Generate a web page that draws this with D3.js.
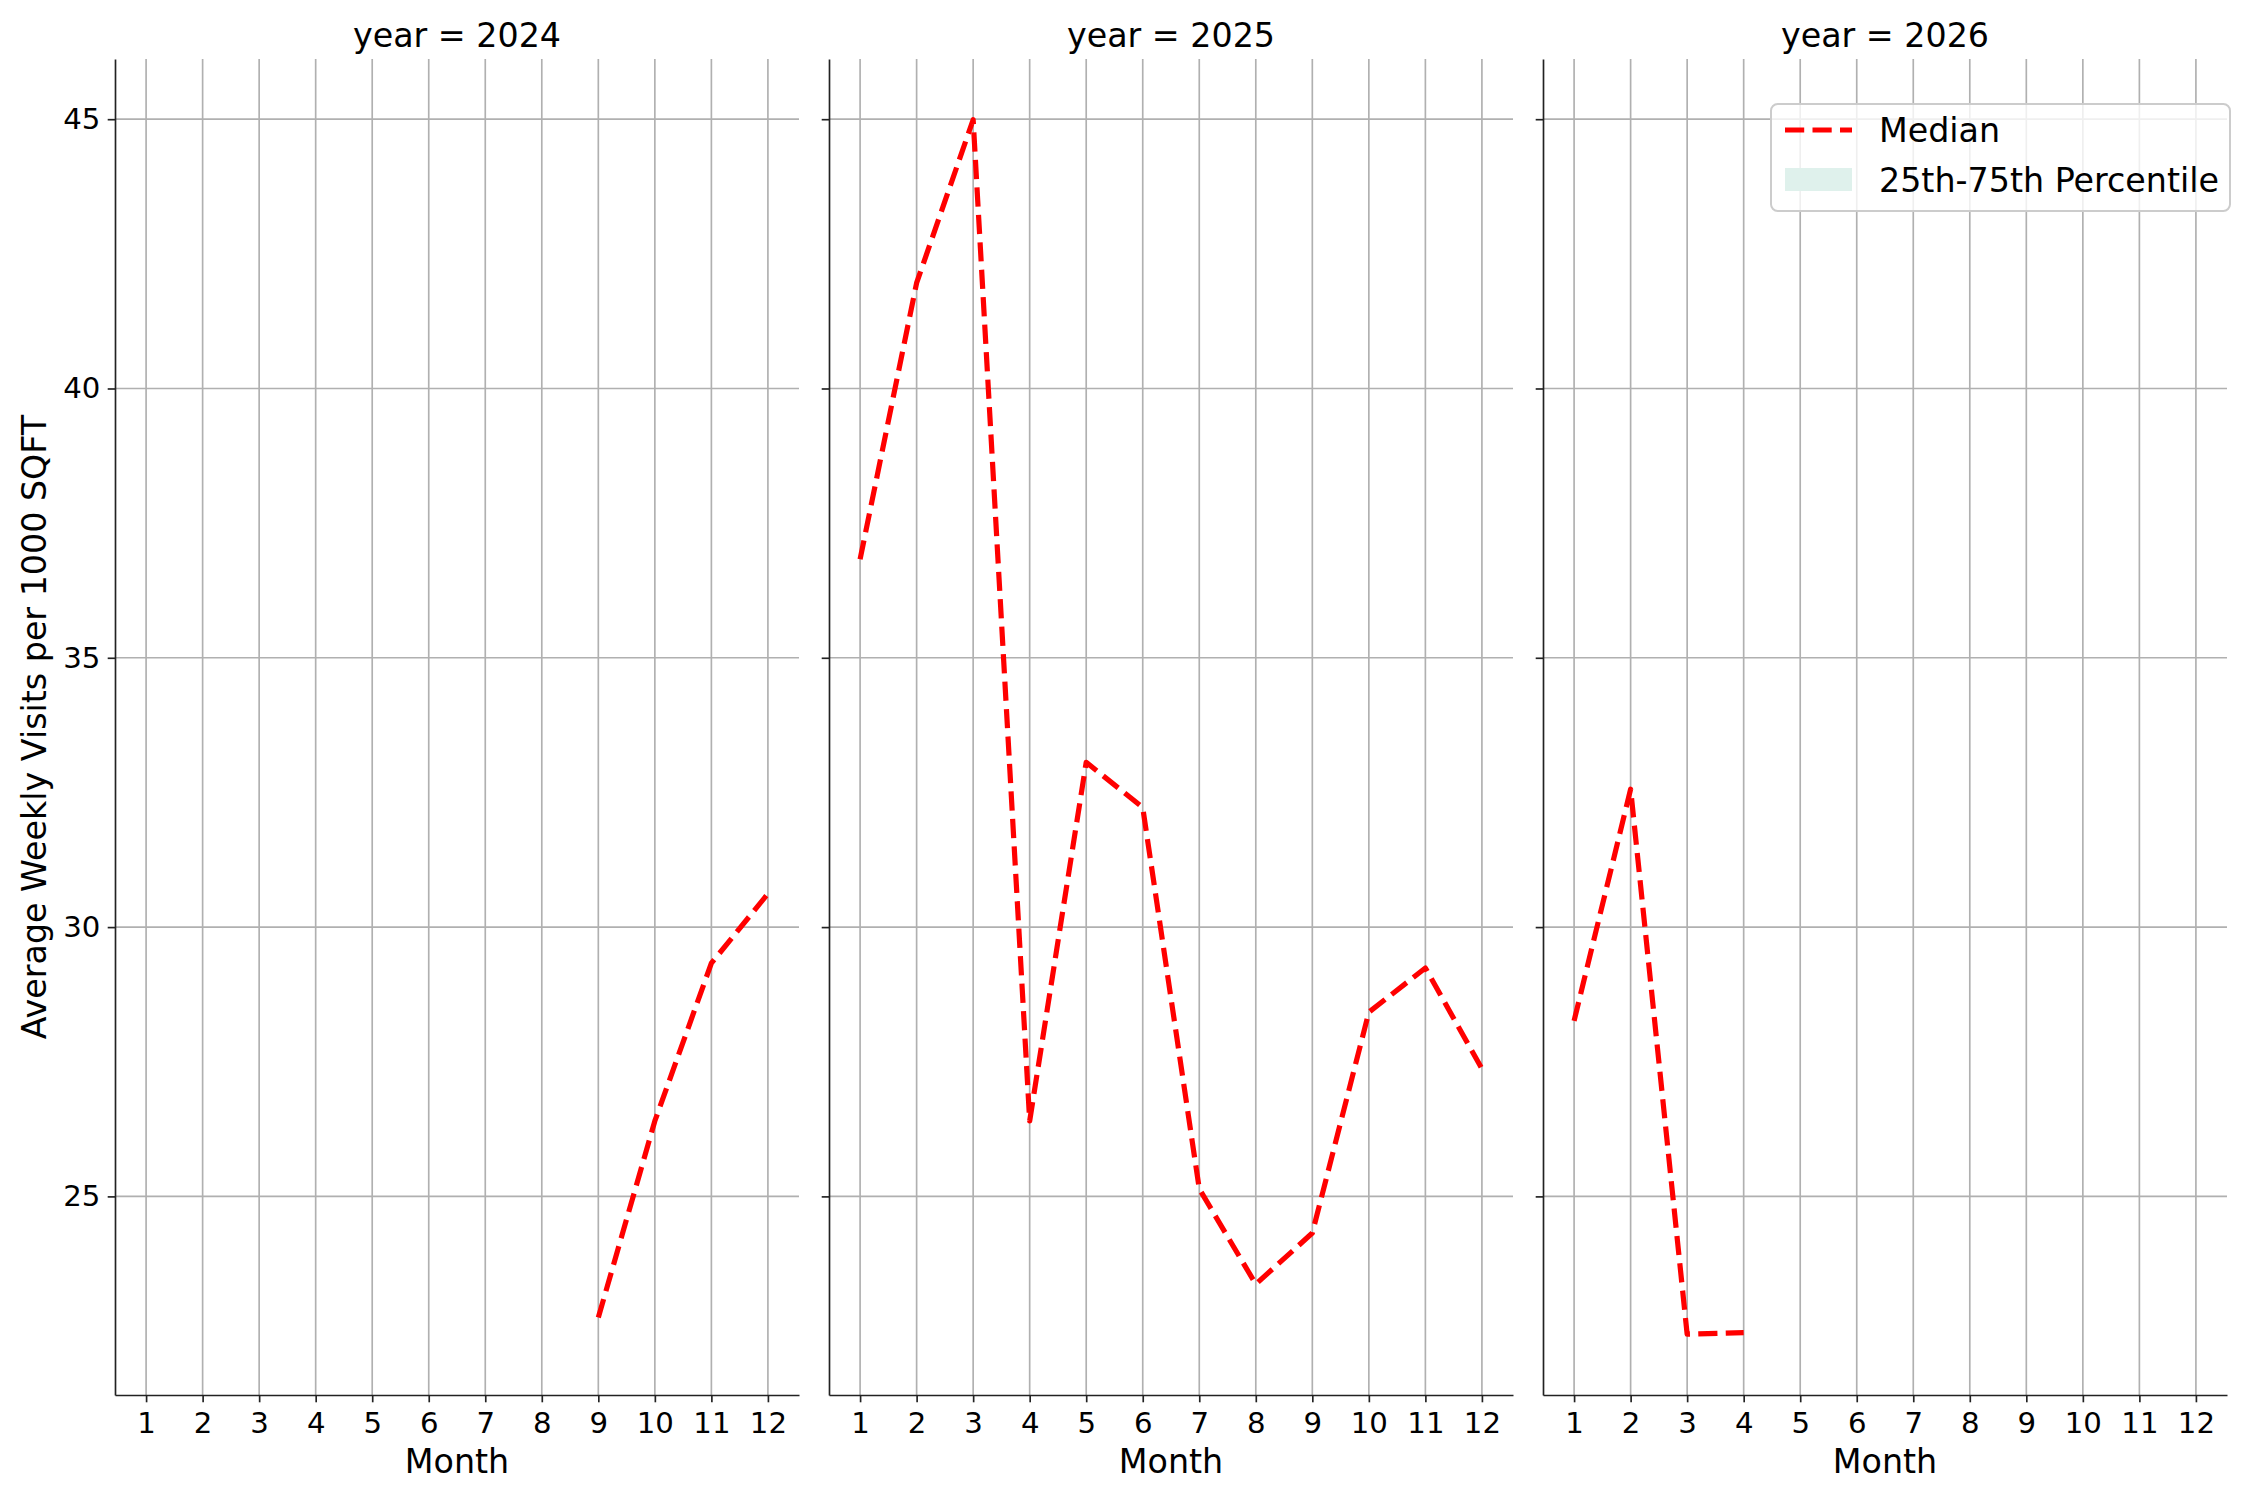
<!DOCTYPE html>
<html lang="en">

<head>
  <meta charset="UTF-8">
  <title>Average Weekly Visits by Month</title>
  <script src="https://d3js.org/d3.v7.min.js"></script>
  <style>
    body {
      margin: 0;
      background: white;
    }

    text {
      font-family: "DejaVu Sans", sans-serif;
      fill: black;
    }
  </style>
</head>

<body>
  <svg id="chart" width="2250" height="1500"></svg>

  <script>
    // values
    const years = [2024, 2025, 2026];
    const monthTicks = [1, 2, 3, 4, 5, 6, 7, 8, 9, 10, 11, 12];
    const yTicks = [25, 30, 35, 40, 45];

    const months2024 = [9, 10, 11, 12];
    const median2024 = [22.75, 26.4, 29.33, 30.62];

    const months2025 = [1, 2, 3, 4, 5, 6, 7, 8, 9, 10, 11, 12];
    const median2025 = [36.83, 41.96, 44.99, 26.4, 33.06, 32.22, 25.14, 23.37, 24.32, 28.42, 29.24, 27.37];

    const months2026 = [1, 2, 3, 4];
    const median2026 = [28.26, 32.56, 22.44, 22.47];

    const legendLabels = ["Median", "25th-75th Percentile"];

    const seriesByYear = {
      2024: months2024.map((m, i) => ({ month: m, value: median2024[i] })),
      2025: months2025.map((m, i) => ({ month: m, value: median2025[i] })),
      2026: months2026.map((m, i) => ({ month: m, value: median2026[i] }))
    };

    // layout (px), matplotlib-like at 150 dpi
    const panelLeft = 115;
    const panelWidth = 684;
    const panelGap = 30;
    const panelTop = 59;
    const panelBottom = 1395;
    const tickLen = 7.3;
    const thin = 1.67;
    const gridColor = "#b0b0b0";
    const spineColor = "#222";

    const svg = d3.select("#chart");

    // shared y with matplotlib style 5% margins
    const allValues = median2024.concat(median2025, median2026);
    const [vMin, vMax] = d3.extent(allValues);
    const pad = (vMax - vMin) * 0.05;
    const yScale = d3.scaleLinear()
      .domain([vMin - pad, vMax + pad])
      .range([panelBottom, panelTop]);

    const xPad = (12 - 1) * 0.05;

    const line = d3.line();

    years.forEach((year, k) => {
      const x0 = panelLeft + k * (panelWidth + panelGap);
      const xScale = d3.scaleLinear()
        .domain([1 - xPad, 12 + xPad])
        .range([x0, x0 + panelWidth]);

      const g = svg.append("g");

      // grid
      g.append("g")
        .selectAll("line")
        .data(monthTicks)
        .join("line")
        .attr("x1", d => xScale(d))
        .attr("x2", d => xScale(d))
        .attr("y1", panelTop)
        .attr("y2", panelBottom)
        .attr("stroke", gridColor)
        .attr("stroke-width", thin);

      g.append("g")
        .selectAll("line")
        .data(yTicks)
        .join("line")
        .attr("x1", x0)
        .attr("x2", x0 + panelWidth)
        .attr("y1", d => yScale(d))
        .attr("y2", d => yScale(d))
        .attr("stroke", gridColor)
        .attr("stroke-width", thin);

      // median line
      const pts = seriesByYear[year];
      g.append("path")
        .attr("d", line.x(d => xScale(d.month)).y(d => yScale(d.value))(pts))
        .attr("fill", "none")
        .attr("stroke", "#ff0000")
        .attr("stroke-width", 5.2)
        .attr("stroke-dasharray", "19.2,8.3")
        .attr("stroke-linejoin", "round");

      // axes
      const xAxis = d3.axisBottom(xScale)
        .tickValues(monthTicks)
        .tickFormat(d3.format("d"))
        .tickSize(tickLen)
        .tickSizeOuter(0)
        .tickPadding(10);

      const yAxis = d3.axisLeft(yScale)
        .tickValues(yTicks)
        .tickSize(tickLen)
        .tickSizeOuter(0)
        .tickPadding(7.3)
        .tickFormat(k === 0 ? d3.format("d") : "");

      const gx = g.append("g")
        .attr("transform", `translate(0,${panelBottom})`)
        .call(xAxis);

      const gy = g.append("g")
        .attr("transform", `translate(${x0},0)`)
        .call(yAxis);

      [gx, gy].forEach(a => {
        a.select(".domain").attr("stroke", spineColor).attr("stroke-width", thin);
        a.selectAll(".tick line").attr("stroke", spineColor).attr("stroke-width", thin);
        a.selectAll(".tick text")
          .attr("fill", "black")
          .style("font-size", "29.2px")
          .style("font-family", "'DejaVu Sans', sans-serif");
      });

      // title and x label
      g.append("text")
        .attr("x", x0 + panelWidth / 2)
        .attr("y", panelTop - 12.5)
        .attr("text-anchor", "middle")
        .style("font-size", "33.3px")
        .text(`year = ${year}`);

      g.append("text")
        .attr("x", x0 + panelWidth / 2)
        .attr("y", 1473)
        .attr("text-anchor", "middle")
        .style("font-size", "33.3px")
        .text("Month");
    });

    // y label
    svg.append("text")
      .attr("transform", `translate(46,${(panelTop + panelBottom) / 2}) rotate(-90)`)
      .attr("text-anchor", "middle")
      .style("font-size", "33.3px")
      .text("Average Weekly Visits per 1000 SQFT");

    // legend
    const legend = svg.append("g").attr("transform", "translate(1771,104)");

    legend.append("rect")
      .attr("width", 459)
      .attr("height", 107)
      .attr("rx", 6.7)
      .attr("fill", "white")
      .attr("fill-opacity", 0.8)
      .attr("stroke", "#cccccc")
      .attr("stroke-width", 2);

    legend.append("line")
      .attr("x1", 14)
      .attr("x2", 81)
      .attr("y1", 26)
      .attr("y2", 26)
      .attr("stroke", "#ff0000")
      .attr("stroke-width", 5.2)
      .attr("stroke-dasharray", "19.2,8.3");

    legend.append("rect")
      .attr("x", 14)
      .attr("y", 64)
      .attr("width", 67)
      .attr("height", 23)
      .attr("fill", "#dff1ec");

    legend.selectAll(".legend-label")
      .data(legendLabels)
      .join("text")
      .attr("class", "legend-label")
      .attr("x", 108)
      .attr("y", (d, i) => 38 + i * 49.5)
      .style("font-size", "33.3px")
      .text(d => d);
  </script>
</body>

</html>
